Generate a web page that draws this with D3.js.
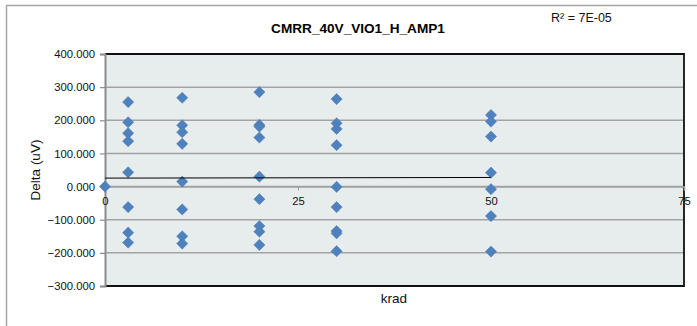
<!DOCTYPE html>
<html><head><meta charset="utf-8">
<script src="https://cdn.jsdelivr.net/npm/d3@7"></script>
<style>body{margin:0;background:#fff;}svg{display:block;font-family:"Liberation Sans",Arial,sans-serif;}</style>
</head><body>
<svg id="c" width="697" height="326"></svg>
<script>
const title = "CMRR_40V_VIO1_H_AMP1";
const r2Label = "R² = 7E-05";
const xTitle = "krad";
const yTitle = "Delta (uV)";
const krad = [0,
  3,3,3,3,3,3,3,3,
  10,10,10,10,10,10,10,10,
  20,20,20,20,20,20,20,20,20,
  30,30,30,30,30,30,30,30,30,
  50,50,50,50,50,50,50];
const delta = [0,
  255,194,161,137,43,-62,-139,-169,
  268,185,164,129,15,-69,-150,-172,
  285,186,181,148,30,-38,-119,-136,-176,
  264,191,174,125,-1,-62,-134,-141,-195,
  216,196,151,42,-8,-89,-196];
const trendX = [0, 50];
const trendY = [25.5, 27.5];
const xTicks = [0, 25, 50, 75];
const yTicks = [-300, -200, -100, 0, 100, 200, 300, 400];

const svg = d3.select("#c");
const L = 105, R = 684, T = 54, B = 286;
const x = d3.scaleLinear().domain([0, 75]).range([L, R]);
const y = d3.scaleLinear().domain([-300, 400]).range([B, T]);

// outer chart border
svg.append("path").attr("d", `M6.5,330 L6.5,5.5 L700,5.5`).attr("fill","none")
  .attr("stroke","#a6a6a6").attr("stroke-width",1.5);

// plot background
svg.append("rect").attr("x",L).attr("y",T).attr("width",R-L).attr("height",B-T)
  .attr("fill","#e7eced");

// gridlines
svg.append("g").selectAll("line").data(yTicks.filter(d => d > -300 && d < 400)).join("line")
  .attr("x1",L).attr("x2",R).attr("y1",d=>y(d)).attr("y2",d=>y(d))
  .attr("stroke","#a3a3a3").attr("stroke-width",1.5);

// plot border
svg.append("path").attr("d",`M${L},${T} L${R},${T} L${R},${B} L${L},${B}`)
  .attr("fill","none").attr("stroke","#111").attr("stroke-width",1.8);

// y axis
const yAxis = d3.axisLeft(y).tickValues(yTicks).tickFormat(d3.format(".3f")).tickSize(5).tickPadding(5);
const gy = svg.append("g").attr("transform",`translate(${L},0)`).call(yAxis);
gy.select(".domain").attr("stroke","#8c8c8c").attr("stroke-width",2);
gy.selectAll(".tick line").attr("stroke","#8c8c8c").attr("stroke-width",1.2);
gy.selectAll("text").attr("font-size",11.3).attr("fill","#111").attr("font-family","Liberation Sans, Arial, sans-serif");

// x axis at y = 0
const xAxis = d3.axisBottom(x).tickValues(xTicks).tickFormat(d3.format("d")).tickSize(4).tickPadding(6);
const gx = svg.append("g").attr("transform",`translate(0,${y(0)})`).call(xAxis);
gx.select(".domain").attr("stroke","#a3a3a3").attr("stroke-width",1.5);
gx.selectAll(".tick line").attr("stroke","#999").attr("stroke-width",1);
gx.selectAll("text").attr("font-size",11.3).attr("fill","#111").attr("font-family","Liberation Sans, Arial, sans-serif");

// points
const pts = krad.map((k,i)=>[k, delta[i]]);
const h = 5.6;
svg.append("g").selectAll("path").data(pts).join("path")
  .attr("d", d => `M${x(d[0])},${y(d[1])-h} L${x(d[0])+h},${y(d[1])} L${x(d[0])},${y(d[1])+h} L${x(d[0])-h},${y(d[1])} Z`)
  .attr("fill","#4f81bd").attr("stroke","#4a7ab5").attr("stroke-width",0.5);

// trendline
svg.append("path").datum(trendX.map((t,i)=>[t, trendY[i]]))
  .attr("d", d3.line().x(d=>x(d[0])).y(d=>y(d[1])))
  .attr("fill","none").attr("stroke","#000").attr("stroke-width",1);

// titles
svg.append("text").attr("x",358).attr("y",33).attr("text-anchor","middle")
  .attr("font-size",13.6).attr("font-weight","bold").attr("fill","#000").text(title);
svg.append("text").attr("x",551).attr("y",22).attr("font-size",12.5).attr("fill","#111").text(r2Label);
svg.append("text").attr("x",394).attr("y",303).attr("text-anchor","middle")
  .attr("font-size",13.5).attr("fill","#111").text(xTitle);
svg.append("text").attr("transform",`translate(40,170) rotate(-90)`).attr("text-anchor","middle")
  .attr("font-size",13.5).attr("fill","#111").text(yTitle);
</script>
</body></html>
